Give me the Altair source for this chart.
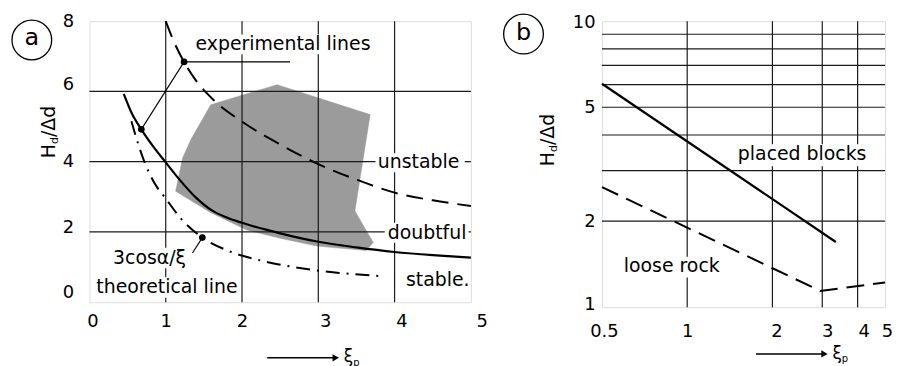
import altair as alt
import pandas as pd

FONT = "DejaVu Sans"

# ---------------- Panel a data ----------------
a_xticks = [0, 1, 2, 3, 4, 5]
a_yticks = [0, 2, 4, 6, 8]
a_vgrid = [1, 2, 3, 4]
a_hgrid = [2, 4, 6]

solid_x = [0.45, 0.55, 0.68, 0.84, 1.0, 1.2, 1.4, 1.6, 1.8, 2.0, 2.5, 3.0, 3.5, 4.0, 4.5, 5.0]
solid_y = [5.93, 5.4, 4.92, 4.42, 3.98, 3.44, 2.97, 2.62, 2.41, 2.26, 1.96, 1.72, 1.56, 1.43, 1.34, 1.27]

dash_x = [1.0, 1.1, 1.24, 1.4, 1.63, 2.0, 2.5, 3.0, 3.5, 4.0, 4.5, 5.0]
dash_y = [8.0, 7.45, 6.84, 6.3, 5.75, 5.14, 4.49, 3.93, 3.49, 3.12, 2.9, 2.74]

theo_x = [0.55, 0.64, 0.72, 0.85, 1.0, 1.2, 1.48, 1.8, 2.24, 2.8, 3.3, 3.85]
theo_y = [5.15, 4.5, 4.0, 3.4, 2.95, 2.38, 1.84, 1.48, 1.19, 0.96, 0.83, 0.74]

poly_x = [1.13, 1.22, 1.33, 1.59, 2.46, 3.68, 3.48, 3.72, 3.63, 2.98, 2.5, 2.07, 1.59, 1.13]
poly_y = [3.16, 4.1, 4.63, 5.62, 6.19, 5.34, 2.6, 1.7, 1.47, 1.6, 1.82, 2.05, 2.55, 3.16]

lead1_x = [2.63, 1.24, 0.68]
lead1_y = [6.84, 6.84, 4.92]
lead2_x = [1.35, 1.48]
lead2_y = [1.40, 1.84]
dot_x = [1.24, 0.68, 1.48]
dot_y = [6.84, 4.92, 1.84]

a_labels = ["experimental lines", "unstable", "doubtful", "stable.", "3cos\u03b1/\u03be", "theoretical line"]
a_lab_x = [1.39, 3.78, 3.91, 4.15, 0.31, 0.09]
a_lab_y = [7.34, 3.98, 1.98, 0.62, 1.27, 0.42]
# white boxes behind the labels
a_box_x = [1.36, 3.75, 3.87, 4.12, 0.28, 0.065]
a_box_x2 = [3.82, 4.92, 4.97, 4.97, 1.36, 1.98]
a_box_y = [7.62, 4.24, 2.26, 0.90, 1.55, 0.71]
a_box_y2 = [7.06, 3.70, 1.69, 0.34, 0.97, 0.13]

# ---------------- Panel b data ----------------
b_xticks = [0.5, 1, 2, 3, 4, 5]
b_yticks = [1, 2, 5, 10]
b_vgrid = [1, 2, 3, 4]
b_hgrid = [2, 3, 4, 5, 6, 7, 8, 9]

placed_x = [0.5, 3.35]
placed_y = [6.04, 1.69]
loose_x = [0.5, 2.95, 5.0]
loose_y = [2.63, 1.14, 1.22]

b_labels = ["placed blocks", "loose rock"]
b_lab_x = [1.51, 0.597]
b_lab_y = [3.42, 1.388]
b_box_x = [1.48, 0.583]
b_box_x2 = [4.72, 1.406]
b_box_y = [3.71, 1.50]
b_box_y2 = [3.11, 1.27]

one = pd.DataFrame({"k": [0]})


def df_line(xs, ys):
    return pd.DataFrame({"x": xs, "y": ys, "i": list(range(len(xs)))})


# ============ PANEL A ============
xs_a = alt.Scale(domain=[0, 5], nice=False, zero=False)
ys_a = alt.Scale(domain=[0, 8], nice=False, zero=False)
ax_a_x = alt.Axis(values=a_xticks, grid=False, ticks=False, domain=False, title=None, labelFlush=False,
                  labelFont=FONT, labelFontSize=18, labelColor="black", labelPadding=10,
                  labelOffset={"condition": [{"test": "datum.value >= 5", "value": 11},
                                             {"test": "datum.value >= 3", "value": 7},
                                             {"test": "datum.value == 0", "value": 3}], "value": 0})
ax_a_y = alt.Axis(values=a_yticks, grid=False, ticks=False, domain=False, title=None, labelFlush=False,
                  labelFont=FONT, labelFontSize=18, labelColor="black", labelPadding=16,
                  labelOffset={"condition": [{"test": "datum.value == 0", "value": -10},
                                             {"test": "datum.value == 2", "value": -4},
                                             {"test": "datum.value == 6", "value": -7}], "value": 0})


def AX(f="x"):
    return alt.X(f"{f}:Q", scale=xs_a, axis=ax_a_x)


def AY(f="y"):
    return alt.Y(f"{f}:Q", scale=ys_a, axis=ax_a_y)


poly = alt.Chart(df_line(poly_x, poly_y)).mark_line(
    fill="#9b9b9b", stroke="#9b9b9b", strokeWidth=0.5
).encode(x=AX(), y=AY(), order="i:Q")

vgrid_a = alt.Chart(pd.DataFrame({"x": a_vgrid})).mark_rule(color="#1a1a1a", strokeWidth=1.2).encode(x=AX())
hgrid_a = alt.Chart(pd.DataFrame({"y": a_hgrid})).mark_rule(color="#1a1a1a", strokeWidth=1.2).encode(y=AY())

boxes_a = alt.Chart(pd.DataFrame({"x": a_box_x, "x2": a_box_x2, "y": a_box_y, "y2": a_box_y2})).mark_rect(
    color="white").encode(x=AX(), x2="x2:Q", y=AY(), y2="y2:Q")

solid_a = alt.Chart(df_line(solid_x, solid_y)).mark_line(
    color="black", strokeWidth=2.2, interpolate="monotone").encode(x=AX(), y=AY(), order="i:Q")
dash_a = alt.Chart(df_line(dash_x, dash_y)).mark_line(
    color="black", strokeWidth=2, strokeDash=[17, 9], interpolate="monotone").encode(x=AX(), y=AY(), order="i:Q")
theo_a = alt.Chart(df_line(theo_x, theo_y)).mark_line(
    color="black", strokeWidth=2, strokeDash=[14, 7, 2, 7], interpolate="monotone").encode(x=AX(), y=AY(), order="i:Q")

lead1 = alt.Chart(df_line(lead1_x, lead1_y)).mark_line(color="black", strokeWidth=1.1).encode(
    x=AX(), y=AY(), order="i:Q")
lead2 = alt.Chart(df_line(lead2_x, lead2_y)).mark_line(color="black", strokeWidth=1.1).encode(
    x=AX(), y=AY(), order="i:Q")
dots_a = alt.Chart(pd.DataFrame({"x": dot_x, "y": dot_y})).mark_point(
    shape="circle", filled=True, color="black", size=45, opacity=1).encode(x=AX(), y=AY())

text_a = alt.Chart(pd.DataFrame({"x": a_lab_x, "y": a_lab_y, "t": a_labels})).mark_text(
    font=FONT, fontSize=19, align="left", baseline="middle", color="black").encode(x=AX(), y=AY(), text="t:N")

circ_a = alt.Chart(one).mark_point(shape="circle", size=1600, filled=False, color="black",
                                   strokeWidth=1.3, opacity=1).encode(x=alt.value(-58), y=alt.value(19))
circ_a_t = alt.Chart(one).mark_text(text="a", font=FONT, fontSize=24, color="black",
                                    align="center", baseline="middle").encode(x=alt.value(-58), y=alt.value(17))

# invisible spacer that lowers panel a by a couple of pixels
spacer_a = alt.Chart(one).mark_rule(color="white", opacity=0, strokeWidth=1).encode(
    x=alt.value(0), x2=alt.value(0), y=alt.value(-11), y2=alt.value(0))

# y title pieces (rotated)
ttl_a = [
    alt.Chart(one).mark_text(text="H", font=FONT, fontSize=19, angle=270, align="left",
                             baseline="alphabetic", color="black").encode(x=alt.value(-35), y=alt.value(138)),
    alt.Chart(one).mark_text(text="d", font=FONT, fontSize=11, angle=270, align="left",
                             baseline="alphabetic", color="black").encode(x=alt.value(-32), y=alt.value(123.7)),
    alt.Chart(one).mark_text(text="/\u0394d", font=FONT, fontSize=19, angle=270, align="left",
                             baseline="alphabetic", color="black").encode(x=alt.value(-35), y=alt.value(116.7)),
]
# x title: arrow + xi_p
arr_a = alt.Chart(one).mark_rule(color="black", strokeWidth=1.5).encode(
    x=alt.value(179), x2=alt.value(246), y=alt.value(339))
head_a = alt.Chart(one).mark_point(shape="triangle-right", filled=True, color="black", size=55,
                                   opacity=1).encode(x=alt.value(248), y=alt.value(339))
xi_a = alt.Chart(one).mark_text(text="\u03be", font=FONT, fontSize=17, align="left", baseline="alphabetic",
                                color="black").encode(x=alt.value(256), y=alt.value(343))
p_a = alt.Chart(one).mark_text(text="p", font=FONT, fontSize=10, align="left", baseline="alphabetic",
                               color="black").encode(x=alt.value(265.5), y=alt.value(347))

panel_a = alt.layer(
    poly, vgrid_a, hgrid_a, boxes_a, solid_a, dash_a, theo_a, lead1, lead2, dots_a, text_a,
    circ_a, circ_a_t, spacer_a, *ttl_a, arr_a, head_a, xi_a, p_a
).properties(width=384, height=283)

# ============ PANEL B ============
xs_b = alt.Scale(type="log", domain=[0.5, 5], nice=False)
ys_b = alt.Scale(type="log", domain=[1, 10], nice=False)
ax_b_x = alt.Axis(values=b_xticks, grid=False, ticks=False, domain=False, title=None, format=".1~f",
                  labelFlush=False,
                  labelFont=FONT, labelFontSize=18, labelColor="black", labelPadding=16,
                  labelOffset={"condition": [{"test": "datum.value == 1", "value": 0},
                                             {"test": "datum.value == 2", "value": 4},
                                             {"test": "datum.value == 3", "value": 5},
                                             {"test": "datum.value == 4", "value": 6}], "value": 2})
ax_b_y = alt.Axis(values=b_yticks, grid=False, ticks=False, domain=False, title=None, format="d",
                  labelFlush=False,
                  labelFont=FONT, labelFontSize=18, labelColor="black", labelPadding=7,
                  labelOffset={"condition": [{"test": "datum.value == 10", "value": 1},
                                             {"test": "datum.value == 1", "value": -3}], "value": 0})


def BX(f="x"):
    return alt.X(f"{f}:Q", scale=xs_b, axis=ax_b_x)


def BY(f="y"):
    return alt.Y(f"{f}:Q", scale=ys_b, axis=ax_b_y)


vgrid_b = alt.Chart(pd.DataFrame({"x": b_vgrid})).mark_rule(color="#1a1a1a", strokeWidth=1.2).encode(x=BX())
hgrid_b = alt.Chart(pd.DataFrame({"y": b_hgrid})).mark_rule(color="#1a1a1a", strokeWidth=1.2).encode(y=BY())
boxes_b = alt.Chart(pd.DataFrame({"x": b_box_x, "x2": b_box_x2, "y": b_box_y, "y2": b_box_y2})).mark_rect(
    color="white").encode(x=BX(), x2="x2:Q", y=BY(), y2="y2:Q")
placed = alt.Chart(df_line(placed_x, placed_y)).mark_line(color="black", strokeWidth=2.2).encode(
    x=BX(), y=BY(), order="i:Q")
loose = alt.Chart(df_line(loose_x, loose_y)).mark_line(color="black", strokeWidth=2, strokeDash=[18, 9]).encode(
    x=BX(), y=BY(), order="i:Q")
text_b = alt.Chart(pd.DataFrame({"x": b_lab_x, "y": b_lab_y, "t": b_labels})).mark_text(
    font=FONT, fontSize=19, align="left", baseline="middle", color="black").encode(x=BX(), y=BY(), text="t:N")

circ_b = alt.Chart(one).mark_point(shape="circle", size=1600, filled=False, color="black",
                                   strokeWidth=1.3, opacity=1).encode(x=alt.value(-79), y=alt.value(13))
circ_b_t = alt.Chart(one).mark_text(text="b", font=FONT, fontSize=24, color="black",
                                    align="center", baseline="middle").encode(x=alt.value(-79), y=alt.value(12))
ttl_b = [
    alt.Chart(one).mark_text(text="H", font=FONT, fontSize=19, angle=270, align="left",
                             baseline="alphabetic", color="black").encode(x=alt.value(-48), y=alt.value(146)),
    alt.Chart(one).mark_text(text="d", font=FONT, fontSize=11, angle=270, align="left",
                             baseline="alphabetic", color="black").encode(x=alt.value(-45), y=alt.value(131.7)),
    alt.Chart(one).mark_text(text="/\u0394d", font=FONT, fontSize=19, angle=270, align="left",
                             baseline="alphabetic", color="black").encode(x=alt.value(-48), y=alt.value(124.7)),
]
arr_b = alt.Chart(one).mark_rule(color="black", strokeWidth=1.5).encode(
    x=alt.value(155), x2=alt.value(222), y=alt.value(335))
head_b = alt.Chart(one).mark_point(shape="triangle-right", filled=True, color="black", size=55,
                                   opacity=1).encode(x=alt.value(224), y=alt.value(335))
xi_b = alt.Chart(one).mark_text(text="\u03be", font=FONT, fontSize=17, align="left", baseline="alphabetic",
                                color="black").encode(x=alt.value(232), y=alt.value(340))
p_b = alt.Chart(one).mark_text(text="p", font=FONT, fontSize=10, align="left", baseline="alphabetic",
                               color="black").encode(x=alt.value(241.5), y=alt.value(343))

panel_b = alt.layer(
    vgrid_b, hgrid_b, boxes_b, placed, loose, text_b, circ_b, circ_b_t, *ttl_b, arr_b, head_b, xi_b, p_b
).properties(width=285, height=288)

chart = alt.hconcat(panel_a, panel_b, spacing=11).properties(
    padding={"left": 0, "top": 0, "right": 0, "bottom": 0}
).configure_view(stroke="black", strokeWidth=1.5).configure(background="white")

chart.save("out.html", embed_options={"renderer": "svg", "actions": False})
